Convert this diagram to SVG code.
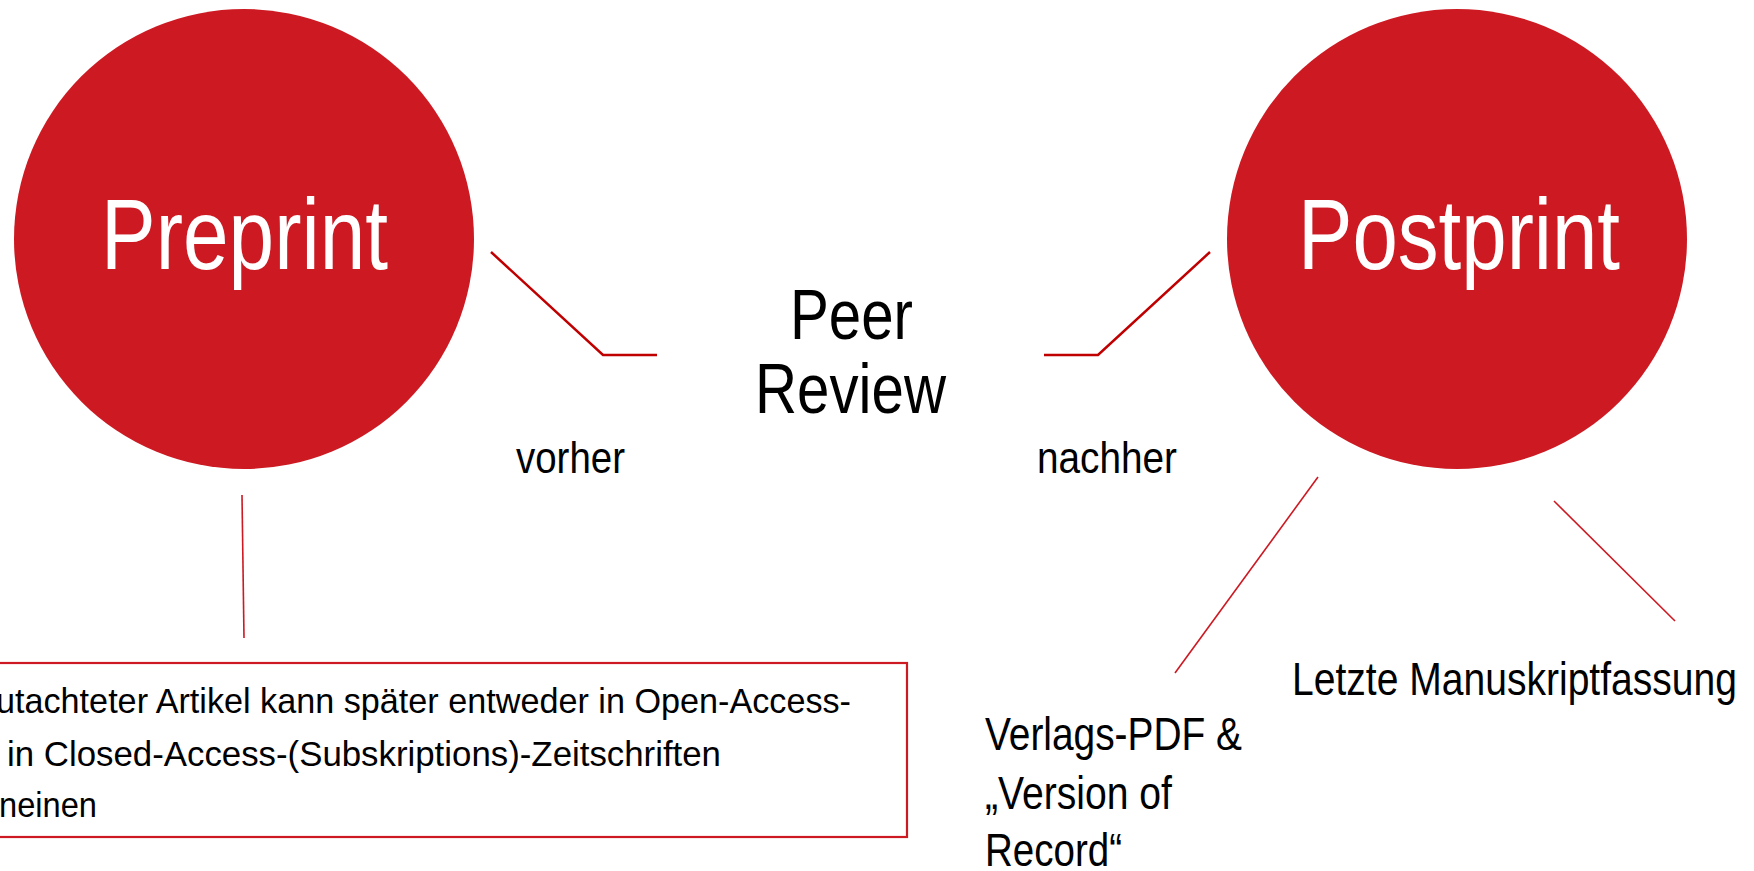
<svg xmlns="http://www.w3.org/2000/svg" width="1754" height="871" viewBox="0 0 1754 871">
  <style>
    .circle { fill: #CC1922; }
    .ctext { fill: #FFFFFF; font-family: "Liberation Sans", Arial, sans-serif; font-size: 100px; }
    .label { fill: #000000; font-family: "Liberation Sans", Arial, sans-serif; }
    .conn { fill: none; stroke: #C00000; stroke-width: 2.5; }
    .thin { fill: none; stroke: #CC1922; stroke-width: 1.6; }
    .box { fill: #FFFFFF; stroke: #CC1922; stroke-width: 2.2; }
  </style>
  <rect width="1754" height="871" fill="#FFFFFF"/>

  <g id="connectors">
    <polyline class="conn" points="491,252 603,355 657,355"/>
    <polyline class="conn" points="1044,355 1098,355 1210,252"/>
    <line class="thin" x1="242" y1="495" x2="244" y2="638"/>
    <line class="thin" x1="1318" y1="477" x2="1175" y2="673"/>
    <line class="thin" x1="1554" y1="501" x2="1675" y2="621"/>
  </g>

  <g id="preprint">
    <circle class="circle" cx="244" cy="239" r="230"/>
    <text class="ctext" x="101" y="269" textLength="287" lengthAdjust="spacingAndGlyphs">Preprint</text>
  </g>

  <g id="postprint">
    <circle class="circle" cx="1457" cy="239" r="230"/>
    <text class="ctext" x="1298" y="269" textLength="322" lengthAdjust="spacingAndGlyphs">Postprint</text>
  </g>

  <g id="peer-review">
    <text class="label" font-size="71" x="790" y="339" textLength="123" lengthAdjust="spacingAndGlyphs">Peer</text>
    <text class="label" font-size="71" x="755" y="413" textLength="191" lengthAdjust="spacingAndGlyphs">Review</text>
  </g>

  <g id="vorher">
    <text class="label" font-size="44" x="516" y="473" textLength="109" lengthAdjust="spacingAndGlyphs">vorher</text>
  </g>

  <g id="nachher">
    <text class="label" font-size="44" x="1037" y="473" textLength="140" lengthAdjust="spacingAndGlyphs">nachher</text>
  </g>

  <g id="preprint-note">
    <rect class="box" x="-10" y="663" width="917" height="174"/>
    <text class="label" font-size="35" x="-4" y="713" textLength="855" lengthAdjust="spacingAndGlyphs">utachteter Artikel kann später entweder in Open-Access-</text>
    <text class="label" font-size="35" x="7" y="766" textLength="714" lengthAdjust="spacingAndGlyphs">in Closed-Access-(Subskriptions)-Zeitschriften</text>
    <text class="label" font-size="35" x="-1" y="817" textLength="98" lengthAdjust="spacingAndGlyphs">neinen</text>
  </g>

  <g id="verlags-pdf">
    <text class="label" font-size="47" x="985" y="750" textLength="257" lengthAdjust="spacingAndGlyphs">Verlags-PDF &amp;</text>
    <text class="label" font-size="47" x="985" y="809" textLength="187" lengthAdjust="spacingAndGlyphs">„Version of</text>
    <text class="label" font-size="47" x="985" y="866" textLength="137" lengthAdjust="spacingAndGlyphs">Record“</text>
  </g>

  <g id="letzte-manuskriptfassung">
    <text class="label" font-size="46" x="1292" y="695" textLength="445" lengthAdjust="spacingAndGlyphs">Letzte Manuskriptfassung</text>
  </g>
</svg>
